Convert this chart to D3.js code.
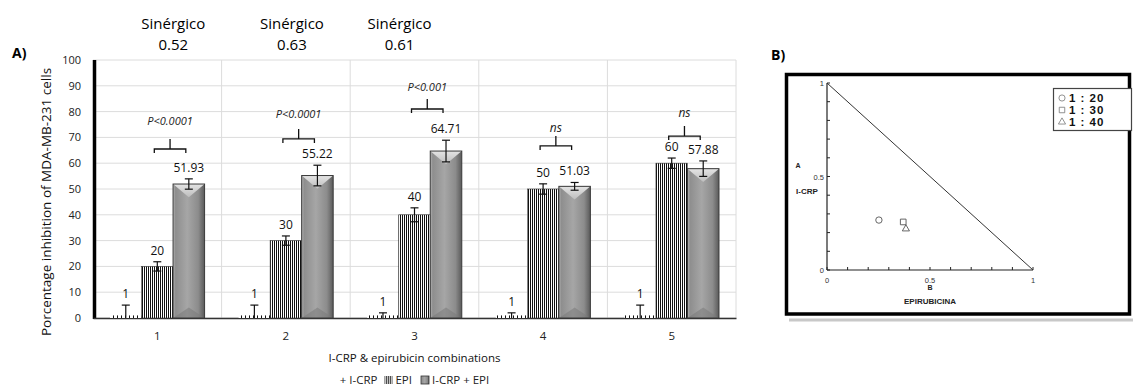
<!DOCTYPE html>
<html><head><meta charset="utf-8">
<script src="https://cdn.jsdelivr.net/npm/d3@7"></script>
<style>body{margin:0;background:#fff} svg{display:block}</style>
</head><body>
<svg id="c" width="1133" height="389"></svg>
<script>
// ---------- DATA ----------
const categories = ["1","2","3","4","5"];
const seriesNames = ["I-CRP","EPI","I-CRP + EPI"];
const icrpValues = [1,1,1,1,1];
const icrpErrors = [4,4,1,1,4];
const epiValues = [20,30,40,50,60];
const epiErrors = [1.8,1.8,2.7,2,2];
const comboValues = [51.93,55.22,64.71,51.03,57.88];
const comboErrors = [2,4,4.2,1.5,3];
const valueLabels = [["1","1","1","1","1"],["20","30","40","50","60"],["51.93","55.22","64.71","51.03","57.88"]];
const sigLabels = ["P<0.0001","P<0.0001","P<0.001","ns","ns"];
const sigBracketLevel = [65.5,69.4,81,66.7,70.5];
const sigLabelLevel = [76.4,79,89.5,73.6,79.5];
const synergyLabels = ["Sinérgico","Sinérgico","Sinérgico"];
const synergyValues = ["0.52","0.63","0.61"];
const yTicks = [0,10,20,30,40,50,60,70,80,90,100];
// Panel B (isobologram)
const isoRatios = ["1 : 20","1 : 30","1 : 40"];
const isoSymbols = ["circle","square","triangle"];
const isoEpi = [0.252,0.37,0.383];
const isoIcrp = [0.267,0.257,0.22];
const isoTickValues = [0,0.1,0.2,0.3,0.4,0.5,0.6,0.7,0.8,0.9,1];
const isoTickLabels = [0,0.5,1];

// ---------- LAYOUT ----------
const svg = d3.select("#c");
const font = "'Open Sans', 'Noto Sans', sans-serif";
const A = {left:93, right:736, top:60, bottom:318};
const x = d3.scaleBand().domain(categories).range([A.left, A.right]);
const xs = d3.scaleBand().domain(seriesNames).range([0, x.bandwidth()]).paddingInner(0).paddingOuter(0.54);
const y = d3.scaleLinear().domain([0,100]).range([A.bottom, A.top]);
const synergyOffset = [16, 6, -15];

const defs = svg.append("defs");
const pDot = defs.append("pattern").attr("id","pdot").attr("patternUnits","userSpaceOnUse").attr("width",4).attr("height",4);
pDot.append("rect").attr("width",4).attr("height",4).attr("fill","#fff");
pDot.append("rect").attr("x",1).attr("width",1).attr("height",4).attr("fill","#111");
const pStr = defs.append("pattern").attr("id","pstr").attr("patternUnits","userSpaceOnUse").attr("width",2).attr("height",4);
pStr.append("rect").attr("width",2).attr("height",4).attr("fill","#fff");
pStr.append("rect").attr("width",1).attr("height",4).attr("fill","#111");
const g1 = defs.append("linearGradient").attr("id","gcombo").attr("x1",0).attr("x2",1).attr("y1",0).attr("y2",0);
[[0,"#b4b4b4"],[0.08,"#8e8e8e"],[0.45,"#a6a6a6"],[0.8,"#8c8c8c"],[1,"#5a5a5a"]].forEach(s=>g1.append("stop").attr("offset",s[0]).attr("stop-color",s[1]));
const g2 = defs.append("linearGradient").attr("id","gtop").attr("x1",0).attr("x2",0).attr("y1",0).attr("y2",1);
[[0,"#e4e4e4"],[1,"#bdbdbd"]].forEach(s=>g2.append("stop").attr("offset",s[0]).attr("stop-color",s[1]));

// gridlines
svg.append("g").selectAll("line").data(yTicks).join("line")
  .attr("x1",A.left).attr("x2",A.right).attr("y1",d=>y(d)).attr("y2",d=>y(d))
  .attr("stroke","#dcdcdc").attr("stroke-width",1);
svg.append("g").selectAll("line").data(categories).join("line")
  .attr("x1",d=>x(d)+x.bandwidth()).attr("x2",d=>x(d)+x.bandwidth())
  .attr("y1",A.top).attr("y2",A.bottom).attr("stroke","#dcdcdc");

// y-axis
const yAxis = svg.append("g").attr("transform",`translate(${A.left},0)`)
  .call(d3.axisLeft(y).tickValues(yTicks).tickSize(0).tickPadding(12));
yAxis.select(".domain").remove();
yAxis.selectAll("text").attr("font-family",font).attr("font-size",11).attr("fill","#222");
svg.append("line").attr("x1",A.left+1.5).attr("x2",A.left+1.5).attr("y1",A.top).attr("y2",A.bottom+1)
  .attr("stroke","#000").attr("stroke-width",3.5);
// x-axis
const xAxis = svg.append("g").attr("transform",`translate(0,${A.bottom})`)
  .call(d3.axisBottom(x).tickSize(0).tickPadding(14));
xAxis.select(".domain").attr("stroke","#333").attr("stroke-width",1.5);
xAxis.selectAll("text").attr("font-family",font).attr("font-size",11.5).attr("fill","#222");

// bars
const series = [
  {name:seriesNames[0], vals:icrpValues, errs:icrpErrors},
  {name:seriesNames[1], vals:epiValues, errs:epiErrors},
  {name:seriesNames[2], vals:comboValues, errs:comboErrors}
];
const bw = xs.bandwidth();
series.forEach((s,si)=>{
  s.vals.forEach((v,i)=>{
    const x0 = x(categories[i]) + xs(s.name);
    const top = y(v), bot = y(0);
    const cx = x0 + bw/2;
    if (si===0) {
      svg.append("rect").attr("x",x0).attr("y",top).attr("width",bw).attr("height",bot-top).attr("fill","url(#pdot)");
    } else if (si===1) {
      svg.append("rect").attr("x",x0).attr("y",top).attr("width",bw).attr("height",bot-top).attr("fill","url(#pstr)")
        .attr("stroke","#333").attr("stroke-width",0.6);
    } else {
      svg.append("rect").attr("x",x0).attr("y",top).attr("width",bw).attr("height",bot-top).attr("fill","url(#gcombo)");
      const d = bw*0.42;
      svg.append("path").attr("d",`M${x0},${top}L${x0+bw},${top}L${cx},${top+d}Z`).attr("fill","url(#gtop)");
      svg.append("path").attr("d",`M${x0},${bot}L${x0+bw},${bot}L${cx},${bot-d*0.8}Z`).attr("fill","#7a7a7a").attr("opacity",0.55);
      svg.append("rect").attr("x",x0).attr("y",top).attr("width",bw).attr("height",bot-top).attr("fill","none")
        .attr("stroke","#3a3a3a").attr("stroke-width",1);
    }
    // error bar
    const e = s.errs[i];
    const eTop = y(v+e), eBot = y(Math.max(0,v-e));
    const eg = svg.append("g").attr("stroke","#111").attr("stroke-width",1.2);
    eg.append("line").attr("x1",cx).attr("x2",cx).attr("y1",eTop).attr("y2",eBot);
    eg.append("line").attr("x1",cx-4).attr("x2",cx+4).attr("y1",eTop).attr("y2",eTop);
    if (v-e>0) eg.append("line").attr("x1",cx-4).attr("x2",cx+4).attr("y1",eBot).attr("y2",eBot);
    // value label
    svg.append("text").attr("x",cx).attr("y",eTop-7).attr("text-anchor","middle")
      .attr("font-family",font).attr("font-size",12).attr("fill","#111").text(valueLabels[si][i]);
  });
});

// significance brackets
categories.forEach((c,i)=>{
  const xa = x(c)+xs(seriesNames[1])+bw/2 - 3, xb = x(c)+xs(seriesNames[2])+bw/2 - 3;
  const by = y(sigBracketLevel[i]);
  const m = (xa+xb)/2;
  svg.append("path").attr("d",`M${xa},${by+4}L${xa},${by}L${xb},${by}L${xb},${by+4}M${m},${by}L${m},${by-10}`)
    .attr("fill","none").attr("stroke","#111").attr("stroke-width",1.3);
  svg.append("text").attr("x",m).attr("y",y(sigLabelLevel[i])+4).attr("text-anchor","middle")
    .attr("font-family",font).attr("font-style","italic").attr("font-size",sigLabels[i]==="ns"?12:11).attr("fill","#222").text(sigLabels[i]);
});

// synergy annotations
synergyLabels.forEach((t,i)=>{
  const cx = x(categories[i]) + x.bandwidth()/2 + synergyOffset[i];
  svg.append("text").attr("x",cx).attr("y",29).attr("text-anchor","middle").attr("font-family",font).attr("font-size",15).attr("fill","#000").text(t);
  svg.append("text").attr("x",cx).attr("y",50).attr("text-anchor","middle").attr("font-family",font).attr("font-size",15).attr("fill","#000").text(synergyValues[i]);
});

// panel labels
svg.append("text").attr("x",12).attr("y",58).attr("font-family",font).attr("font-weight","bold").attr("font-size",14).text("A)");
svg.append("text").attr("x",771).attr("y",60).attr("font-family",font).attr("font-weight","bold").attr("font-size",14).text("B)");

// axis titles
svg.append("text").attr("transform",`translate(51,${(A.top+A.bottom)/2+13}) rotate(-90)`).attr("text-anchor","middle")
  .attr("font-family",font).attr("font-size",13.5).attr("fill","#111").text("Porcentage inhibition of MDA-MB-231 cells");
svg.append("text").attr("x",(A.left+A.right)/2).attr("y",362).attr("text-anchor","middle")
  .attr("font-family",font).attr("font-size",11.5).attr("fill","#111").text("I-CRP & epirubicin combinations");

// bottom legend (laid out sequentially, centred under the plot)
const lg = svg.append("g").attr("font-family",font).attr("font-size",11.5).attr("fill","#222");
let lx = 0;
const t1 = lg.append("text").attr("x",lx).attr("y",384).text("+ " + seriesNames[0]);
lx += t1.node().getComputedTextLength() + 7;
lg.append("rect").attr("x",lx).attr("y",376).attr("width",8).attr("height",8).attr("fill","url(#pstr)");
lx += 11;
const t2 = lg.append("text").attr("x",lx).attr("y",384).text(seriesNames[1]);
lx += t2.node().getComputedTextLength() + 9;
lg.append("rect").attr("x",lx).attr("y",376).attr("width",8).attr("height",8).attr("fill","url(#gcombo)").attr("stroke","#333").attr("stroke-width",0.8);
lx += 11;
const t3 = lg.append("text").attr("x",lx).attr("y",384).text(seriesNames[2]);
lx += t3.node().getComputedTextLength();
lg.attr("transform",`translate(${(A.left+A.right)/2 - lx/2},0)`);

// ---------- PANEL B ----------
svg.append("line").attr("x1",789).attr("x2",1133).attr("y1",320).attr("y2",320).attr("stroke","#c8c8c8").attr("stroke-width",3);
svg.append("rect").attr("x",786.5).attr("y",74.5).attr("width",343).attr("height",239.5)
  .attr("fill","#fff").attr("stroke","#000").attr("stroke-width",3.5);
const bx = d3.scaleLinear().domain([0,1]).range([827,1033]);
const by = d3.scaleLinear().domain([0,1]).range([270,83]);
const fB = "'Liberation Sans', Arial, sans-serif";
// axes
svg.append("line").attr("x1",bx(0)).attr("x2",bx(1)).attr("y1",by(0)).attr("y2",by(0)).attr("stroke","#222").attr("stroke-width",1.2);
svg.append("line").attr("x1",bx(0)).attr("x2",bx(0)).attr("y1",by(0)).attr("y2",by(1)).attr("stroke","#222").attr("stroke-width",1.2);
svg.append("g").selectAll("line").data(isoTickValues).join("line")
  .attr("x1",d=>bx(d)).attr("x2",d=>bx(d)).attr("y1",by(0)).attr("y2",by(0)-3).attr("stroke","#222");
svg.append("g").selectAll("line").data(isoTickValues).join("line")
  .attr("x1",bx(0)).attr("x2",bx(0)+3).attr("y1",d=>by(d)).attr("y2",d=>by(d)).attr("stroke","#222");
svg.append("g").selectAll("text").data(isoTickLabels).join("text")
  .attr("x",d=>bx(d)).attr("y",by(0)+13).attr("text-anchor","middle").attr("font-family",fB).attr("font-size",7.5).attr("fill","#333").text(d=>d);
svg.append("g").selectAll("text").data(isoTickLabels).join("text")
  .attr("x",bx(0)-3).attr("y",d=>by(d)+3).attr("text-anchor","end").attr("font-family",fB).attr("font-size",7.5).attr("fill","#333").text(d=>d);
// additivity line
svg.append("line").attr("x1",bx(0)).attr("y1",by(1)).attr("x2",bx(1)).attr("y2",by(0)).attr("stroke","#333").attr("stroke-width",1);
// labels
svg.append("text").attr("x",798).attr("y",168).attr("text-anchor","middle").attr("font-family",fB).attr("font-weight","bold").attr("font-size",7).attr("fill","#222").text("A");
svg.append("text").attr("x",807).attr("y",194).attr("text-anchor","middle").attr("font-family",fB).attr("font-weight","bold").attr("font-size",8).attr("fill","#222").text("I-CRP");
svg.append("text").attr("x",bx(0.5)).attr("y",290).attr("text-anchor","middle").attr("font-family",fB).attr("font-weight","bold").attr("font-size",7).attr("fill","#222").text("B");
svg.append("text").attr("x",bx(0.5)).attr("y",304).attr("text-anchor","middle").attr("font-family",fB).attr("font-weight","bold").attr("font-size",8).attr("fill","#222").text("EPIRUBICINA");
// points
const symMap = {circle:d3.symbolCircle, square:d3.symbolSquare, triangle:d3.symbolTriangle};
isoRatios.forEach((r,i)=>{
  svg.append("path").attr("transform",`translate(${bx(isoEpi[i])},${by(isoIcrp[i])})`)
    .attr("d",d3.symbol().type(symMap[isoSymbols[i]]).size(isoSymbols[i]==="triangle"?22:32)())
    .attr("fill","none").attr("stroke","#555").attr("stroke-width",0.9);
});
// legend B
svg.append("rect").attr("x",1053.5).attr("y",88.5).attr("width",78).attr("height",42).attr("fill","#fff").attr("stroke","#444").attr("stroke-width",1.2);
isoRatios.forEach((r,i)=>{
  const ly = 98 + i*12;
  svg.append("path").attr("transform",`translate(1062,${ly})`)
    .attr("d",d3.symbol().type(symMap[isoSymbols[i]]).size(isoSymbols[i]==="triangle"?22:30)())
    .attr("fill","none").attr("stroke","#777").attr("stroke-width",0.8);
  svg.append("text").attr("x",1069).attr("y",ly+4).attr("font-family",fB).attr("font-weight","bold").attr("font-size",11.5)
    .attr("letter-spacing",1).attr("fill","#111").text(r);
});
</script>
</body></html>
